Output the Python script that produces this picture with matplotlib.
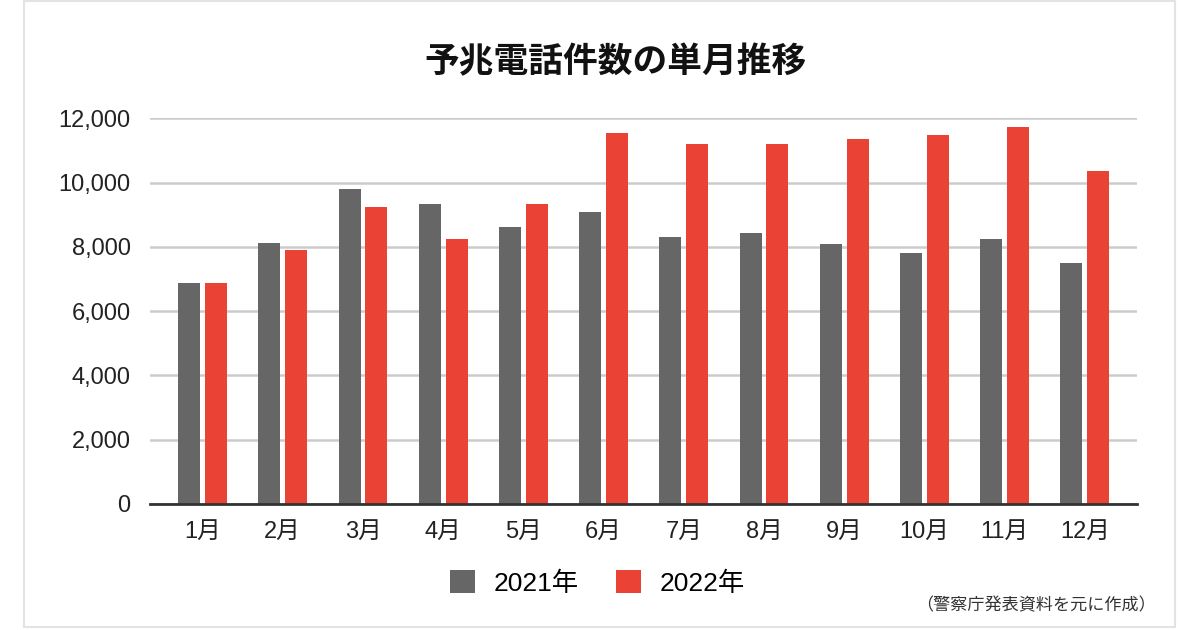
import matplotlib
matplotlib.use("Agg")
import matplotlib.pyplot as plt
import numpy as np
from matplotlib.patches import Rectangle

plt.rcParams['font.family'] = ['Liberation Sans', 'Noto Sans CJK JP']

# monthly counts
months = ['1月', '2月', '3月', '4月', '5月', '6月', '7月', '8月', '9月', '10月', '11月', '12月']
y2021 = [6870, 8110, 9790, 9320, 8610, 9070, 8300, 8420, 8090, 7820, 8240, 7510]
y2022 = [6870, 7900, 9250, 8240, 9320, 11530, 11200, 11200, 11350, 11470, 11720, 10360]
labels = ['2021年', '2022年']
yticks = [0, 2000, 4000, 6000, 8000, 10000, 12000]

GREY = '#666666'
RED = '#ea4335'

fig = plt.figure(figsize=(12, 6.3), dpi=100)
ax = fig.add_axes([0.125, 0.2, 0.8225, 0.6122])

x = np.arange(len(months))
w = 0.275
ax.bar(x - 0.167, y2021, w, color=GREY, label=labels[0], zorder=3)
ax.bar(x + 0.167, y2022, w, color=RED, label=labels[1], zorder=3)

ax.set_xlim(-0.655, 11.65)
ax.set_ylim(0, 12000)
ax.set_yticks(yticks)
ax.set_yticklabels([f'{v:,}' for v in yticks])
ax.set_xticks(x)
ax.set_xticklabels(months)
ax.tick_params(axis='y', length=0, pad=14, labelsize=17, labelcolor='#222222')
ax.tick_params(axis='x', length=0, pad=12, labelsize=17, labelcolor='#222222')
ax.grid(axis='y', color='#cccccc', lw=1.8, zorder=0)
for s in ['top', 'right', 'left']:
    ax.spines[s].set_visible(False)
ax.spines['bottom'].set_color('#333333')
ax.spines['bottom'].set_linewidth(2)
ax.spines['bottom'].set_zorder(4)

fig.text(616 / 1200, 1 - 62 / 630, '予兆電話件数の単月推移', ha='center', va='center',
         fontsize=25, fontweight='bold', family='Noto Sans CJK JP', color='#111111')

fig.legend(loc='center', bbox_to_anchor=(0.498, 1 - 583 / 630), ncol=2, frameon=False,
           fontsize=19, handlelength=0.95, handleheight=0.95, handletextpad=0.7,
           columnspacing=1.4)

fig.text(1156 / 1200, 1 - 605 / 630, '（警察庁発表資料を元に作成）', ha='right', va='center',
         fontsize=12.3, family='Noto Sans CJK JP', color='#333333')

# light frame around the whole card
fig.patches.append(Rectangle((24 / 1200, 3 / 630), 1151 / 1200, 626 / 630,
                             transform=fig.transFigure, fill=False,
                             edgecolor='#e3e3e3', lw=1.5))

fig.savefig('out.png', dpi=100)
